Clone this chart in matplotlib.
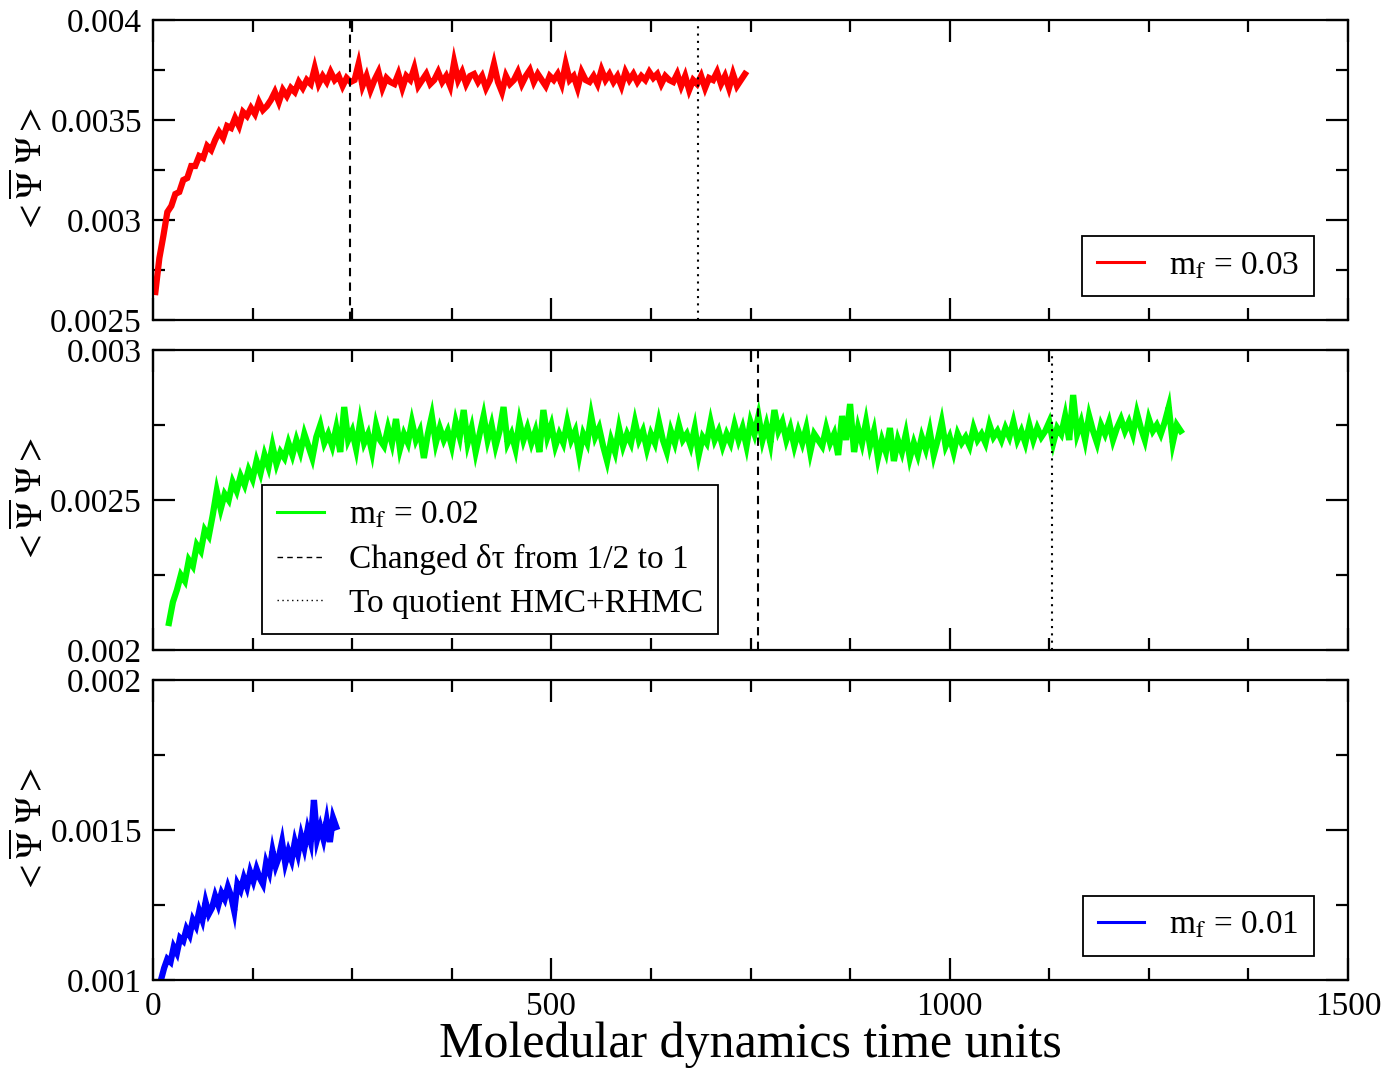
import numpy as np
import matplotlib
matplotlib.use("Agg")
import matplotlib.pyplot as plt
from matplotlib.ticker import MultipleLocator, FuncFormatter

plt.rcParams['font.family'] = ['Liberation Serif', 'DejaVu Serif']
plt.rcParams['mathtext.fontset'] = 'stix'

# ---------------- data (values in units of 1e-6) ----------------
red_t0, red_step = 3, 5
red_vals = [
    2640, 2810, 2920, 3040, 3070, 3130, 3140, 3200, 3210, 3270,
    3270, 3320, 3310, 3370, 3350, 3400, 3440, 3410, 3470, 3460,
    3510, 3470, 3540, 3520, 3560, 3530, 3590, 3550, 3570, 3600,
    3640, 3590, 3650, 3620, 3660, 3640, 3690, 3660, 3700, 3680,
    3760, 3680, 3720, 3690, 3740, 3700, 3720, 3670, 3710, 3690,
    3700, 3780, 3670, 3720, 3650, 3700, 3740, 3660, 3710, 3690,
    3680, 3730, 3660, 3720, 3700, 3760, 3670, 3700, 3730, 3680,
    3700, 3740, 3690, 3720, 3670, 3790, 3700, 3740, 3680, 3720,
    3730, 3690, 3720, 3660, 3700, 3780, 3690, 3640, 3720, 3680,
    3700, 3740, 3680, 3720, 3750, 3690, 3730, 3700, 3670, 3720,
    3700, 3730, 3680, 3780, 3700, 3720, 3660, 3740, 3700, 3690,
    3720, 3680, 3750, 3700, 3730, 3690, 3720, 3670, 3740, 3700,
    3730, 3690, 3720, 3700, 3740, 3710, 3730, 3680, 3720, 3700,
    3690, 3730, 3670, 3720, 3650, 3700, 3680, 3720, 3660, 3710,
    3700, 3740, 3680, 3720, 3660, 3730, 3670, 3700, 3730,
]

green_t0, green_step = 20, 5
green_vals = [
    2090, 2160, 2200, 2250, 2230, 2300, 2280, 2350, 2330, 2400,
    2380, 2450, 2530, 2470, 2520, 2500, 2560, 2530, 2580, 2550,
    2600, 2570, 2630, 2590, 2650, 2610, 2680, 2620, 2660, 2640,
    2690, 2650, 2700, 2660, 2720, 2680, 2640, 2710, 2750, 2690,
    2720, 2680, 2740, 2660, 2810, 2700, 2730, 2670, 2760, 2690,
    2720, 2660, 2750, 2700, 2680, 2740, 2690, 2770, 2670, 2720,
    2690, 2760, 2700, 2730, 2640, 2720, 2780, 2690, 2740, 2700,
    2730, 2680, 2760, 2710, 2800, 2690, 2740, 2660, 2720, 2780,
    2700, 2750, 2680, 2730, 2810, 2690, 2720, 2670, 2760, 2700,
    2740, 2690, 2730, 2660, 2800, 2710, 2750, 2680, 2720, 2690,
    2760, 2700, 2730, 2650, 2720, 2690, 2780, 2710, 2740, 2680,
    2630, 2700, 2660, 2740, 2680, 2720, 2690, 2760, 2700, 2730,
    2670, 2720, 2690, 2760, 2700, 2660, 2730, 2690, 2750, 2700,
    2720, 2680, 2740, 2650, 2710, 2690, 2760, 2700, 2730, 2680,
    2720, 2690, 2750, 2700, 2740, 2680, 2760, 2720, 2780, 2700,
    2750, 2690, 2800, 2730, 2760, 2700, 2740, 2680, 2730, 2690,
    2740, 2660, 2720, 2700, 2680, 2740, 2690, 2720, 2650, 2780,
    2700, 2820, 2660, 2740, 2690, 2760, 2680, 2730, 2640, 2700,
    2660, 2740, 2630, 2700, 2660, 2720, 2640, 2690, 2650, 2710,
    2670, 2730, 2650, 2700, 2760, 2680, 2710, 2660, 2720, 2690,
    2710, 2680, 2740, 2700, 2720, 2690, 2750, 2710, 2730, 2700,
    2740, 2710, 2760, 2700, 2730, 2690, 2750, 2700, 2740, 2710,
    2730, 2760, 2690, 2740, 2720, 2780, 2700, 2850, 2720, 2760,
    2700, 2780, 2730, 2690, 2750, 2720, 2760, 2700, 2740, 2770,
    2730, 2760, 2720, 2790, 2740, 2700, 2770, 2730, 2750, 2720,
    2760, 2810, 2690, 2750, 2730,
]

blue_t0, blue_step = 10, 4
blue_vals = [
    1000, 1040, 1070, 1060, 1110, 1090, 1140, 1130, 1170, 1150,
    1200, 1180, 1230, 1200, 1260, 1220, 1240, 1280, 1250, 1290,
    1270, 1310, 1280, 1230, 1320, 1300, 1340, 1310, 1360, 1330,
    1370, 1340, 1320, 1390, 1360, 1430, 1380, 1410, 1460, 1390,
    1430, 1400, 1460, 1420, 1480, 1440, 1500, 1460, 1600, 1470,
    1510, 1470, 1530, 1460, 1540, 1510,
]

labels = [r'm$_\mathrm{f}$ = 0.03', r'm$_\mathrm{f}$ = 0.02', r'm$_\mathrm{f}$ = 0.01']
colors = ['#ff0000', '#00ff00', '#0000ff']
ylims = [(0.0025, 0.004), (0.002, 0.003), (0.001, 0.002)]
dashed_x = [247, 760, None]    # "Changed δτ from 1/2 to 1"
dotted_x = [684, 1129, None]   # "To quotient HMC+RHMC"
x_ticks = [0, 500, 1000, 1500]
xlabel = 'Moledular dynamics time units'
ylabel = r'$<\overline{\Psi}\ \Psi>$'

series = [(red_t0, red_step, red_vals), (green_t0, green_step, green_vals),
          (blue_t0, blue_step, blue_vals)]

# ---------------- figure ----------------
W, H = 1384, 1068
fig = plt.figure(figsize=(W / 100, H / 100), dpi=100)
left = 153 / W
width = (1348 - 153) / W
tops = [20, 350, 680]
fs = 24

axes = []
for i in range(3):
    top = tops[i]
    ax = fig.add_axes([left, 1 - (top + 300) / H, width, 300 / H])
    axes.append(ax)
    t0, st, vals = series[i]
    t = t0 + st * np.arange(len(vals))
    y = np.array(vals) * 1e-6
    h, = ax.plot(t, y, color=colors[i], lw=4.5, solid_joinstyle='miter',
                 label=labels[i])
    handles = [h]
    if dashed_x[i] is not None:
        hd = ax.axvline(dashed_x[i], color='black', ls=(0, (4, 3)), lw=1.5,
                        label='Changed δτ from 1/2 to 1')
        ht = ax.axvline(dotted_x[i], color='black', ls=(0, (1, 2.5)), lw=1.5,
                        label='To quotient HMC+RHMC')
    ax.set_xlim(0, 1500)
    ax.set_ylim(*ylims[i])
    ax.xaxis.set_major_locator(MultipleLocator(500))
    ax.xaxis.set_minor_locator(MultipleLocator(125))
    ax.yaxis.set_major_locator(MultipleLocator(0.0005))
    ax.yaxis.set_minor_locator(MultipleLocator(0.00025))
    ax.yaxis.set_major_formatter(FuncFormatter(lambda v, p: '%g' % round(v, 6)))
    ax.tick_params(which='both', direction='in', top=True, right=True, width=1.6,
                   labelsize=fs, pad=8)
    ax.tick_params(which='major', length=16)
    ax.tick_params(which='minor', length=8.5)
    for s in ax.spines.values():
        s.set_linewidth(1.6)
    if i < 2:
        ax.tick_params(labelbottom=False)
    ax.set_ylabel(ylabel, fontsize=26)
    ax.yaxis.set_label_coords(-0.086, 0.5)

    common = dict(fontsize=fs, handlelength=1.4, handletextpad=0.75,
                  borderaxespad=0, borderpad=0.45, labelspacing=0.4)
    if i == 1:
        leg = ax.legend(handles=[h, hd, ht], loc='lower left',
                        bbox_to_anchor=(0.0912, 0.0533), **common)
    else:
        leg = ax.legend(handles=handles, loc='lower right',
                        bbox_to_anchor=(0.9716, 0.08), **common)
    leg.get_frame().set_edgecolor('black')
    leg.get_frame().set_linewidth(1.3)
    leg.get_frame().set_boxstyle('square', pad=0)
    leg.get_frame().set_alpha(1)
    for lh in leg.get_lines():
        lh.set_linewidth(2.2 if lh.get_color() in colors else 1.0)

axes[2].set_xticks(x_ticks)
axes[2].set_xticklabels([str(v) for v in x_ticks])
axes[2].set_xlabel(xlabel, fontsize=36, labelpad=0)

fig.savefig('out.png', dpi=100)
